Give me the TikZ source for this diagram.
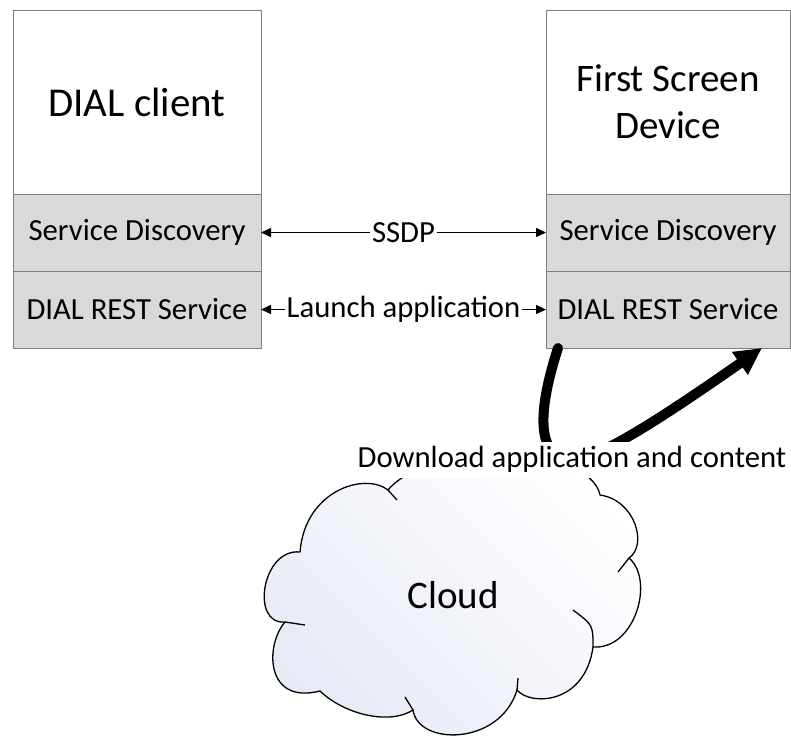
\documentclass[tikz,border=0pt]{standalone}
\usepackage{fontspec}
\setmainfont{Carlito}
\usepackage{tikz}
\usetikzlibrary{arrows.meta,positioning}

\definecolor{layergray}{RGB}{217,217,217}
\definecolor{edgegray}{RGB}{128,128,128}
\definecolor{cloudtint}{RGB}{230,234,245}

\begin{document}
\begin{tikzpicture}[
  x=1pt, y=-1pt,
  node distance=0pt,
  dev/.style={rectangle, draw=edgegray, line width=0.9pt, fill=white,
    minimum width=248pt, minimum height=184pt, inner sep=0pt, outer sep=0pt,
    align=center, font=\fontsize{39}{47}\selectfont},
  layer/.style={rectangle, draw=edgegray, line width=0.9pt, fill=layergray,
    minimum width=248pt, minimum height=77pt, inner sep=0pt, outer sep=0pt,
    font=\fontsize{30.7}{36}\selectfont},
  link/.style={{Triangle[length=10pt,width=9pt]}-{Triangle[length=10pt,width=9pt]}, line width=1.4pt},
  lbl/.style={fill=white, inner xsep=2pt, inner ysep=1pt, font=\fontsize{30.7}{36}\selectfont},
  fetch/.style={-{Triangle[length=27pt,width=26pt]}, line width=10pt, line cap=round},
  puff/.style={draw, line width=1.3pt, line join=round}
]
  \useasboundingbox (0,0) rectangle (791,736);

  % DIAL client
  \node[dev, font=\fontsize{41}{49}\selectfont] (client) at (137,102) {DIAL client};
  \node[layer, below=of client] (csd) {Service Discovery};
  \node[layer, below=of csd] (crest) {DIAL REST Service};

  % first screen device
  \node[dev, minimum width=244pt] (fsd) at (668,102) {First Screen\\Device};
  \node[layer, minimum width=244pt, below=of fsd] (fssd) {Service Discovery};
  \node[layer, minimum width=244pt, below=of fssd] (fsrest) {DIAL REST Service};

  \draw[link] (csd) -- node[lbl]{SSDP} (fssd);
  \draw[link] (crest) -- node[lbl]{Launch application} (fsrest);

  % cloud
  \draw[puff, top color=cloudtint, bottom color=white, shading angle=135] (388,490)
    .. controls (365,472) and (305,490) .. (300,552)
    .. controls (262,548) and (250,625) .. (285,622)
    .. controls (265,645) and (265,705) .. (320,691)
    .. controls (345,715) and (390,725) .. (413,710)
    .. controls (418,746) and (500,746) .. (517,690)
    .. controls (530,706) and (585,705) .. (593,647)
    .. controls (635,650) and (655,580) .. (629,558)
    .. controls (648,545) and (635,500) .. (600,495)
    .. controls (590,445) and (430,440) .. cycle;
  \draw[puff] (388,490) -- (397,500);
  \draw[puff] (285,622) -- (305,625);
  \draw[puff] (413,710) -- (405,697);
  \draw[puff] (517,690) -- (518,678);
  \draw[puff] (593,647) .. controls (593,625) .. (573,610);
  \draw[puff] (629,558) -- (618,572);
  \node[font=\fontsize{39}{47}\selectfont] (cloud) at (453,595) {Cloud};

  \draw[fetch] ([xshift=12pt]fsrest.south west)
    .. controls (538,410) and (535,458) .. (572,460)
    node[lbl, text height=22pt, text depth=7pt, inner ysep=3.5pt, inner xsep=4pt] (dl) {Download application and content}
    .. controls (600,460) and (680,405) .. ([xshift=-28pt]fsrest.south east);
\end{tikzpicture}
\end{document}
